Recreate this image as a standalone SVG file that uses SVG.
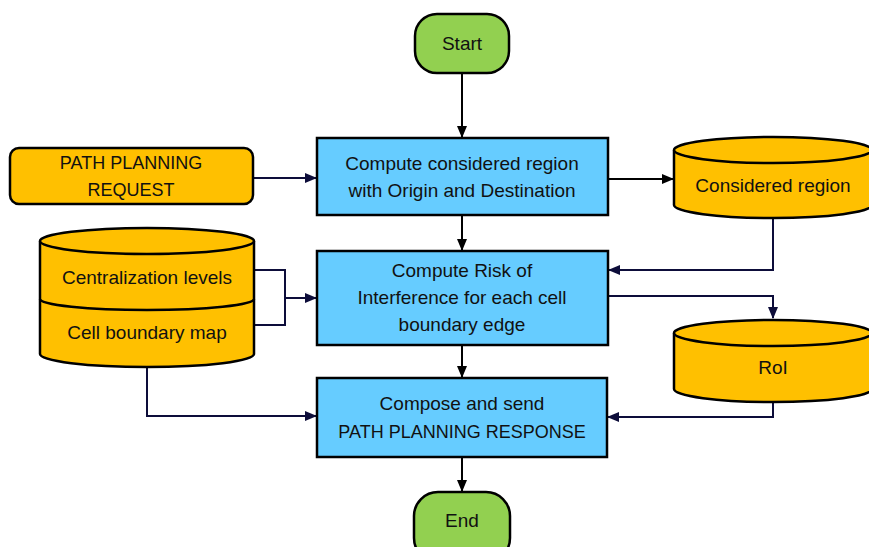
<svg xmlns="http://www.w3.org/2000/svg" width="869" height="547" viewBox="0 0 869 547">
<defs>
<style>
.t{font-family:"Liberation Sans",Arial,sans-serif;font-size:19px;fill:#111;text-anchor:middle}
.u{font-size:18px}
.term{fill:#92D050;stroke:#000;stroke-width:2.5}
.proc{fill:#66CCFF;stroke:#000;stroke-width:2.5}
.data{fill:#FFC000;stroke:#000;stroke-width:2.5}
.c{fill:none;stroke:#000;stroke-width:2}
.n{fill:none;stroke:#0D0D3A;stroke-width:2}
</style>
<marker id="ab" viewBox="0 0 12 10" refX="11" refY="5" markerWidth="12" markerHeight="10" orient="auto" markerUnits="userSpaceOnUse"><path d="M0,0L12,5L0,10z" fill="#000"/></marker>
<marker id="an" viewBox="0 0 12 10" refX="11" refY="5" markerWidth="12" markerHeight="10" orient="auto" markerUnits="userSpaceOnUse"><path d="M0,0L12,5L0,10z" fill="#0D0D3A"/></marker>
</defs>
<rect width="869" height="547" fill="#fff"/>
<g id="connectors">
<path class="c" d="M462,73V137" marker-end="url(#ab)"/>
<path class="n" d="M253,178H316" marker-end="url(#an)"/>
<path class="c" d="M608,179H673" marker-end="url(#ab)"/>
<path class="c" d="M462,215V250" marker-end="url(#ab)"/>
<path class="n" d="M773,218V270H609" marker-end="url(#an)"/>
<path class="n" d="M253,270H285V325H253M285,298H316" marker-end="url(#an)"/>
<path class="n" d="M608,296H773V318" marker-end="url(#an)"/>
<path class="c" d="M462,345V377" marker-end="url(#ab)"/>
<path class="n" d="M147,367V416H316" marker-end="url(#an)"/>
<path class="n" d="M773,402V417H608" marker-end="url(#an)"/>
<path class="c" d="M462,457V491" marker-end="url(#ab)"/>
</g>
<g id="start">
<rect class="term" x="415" y="14" width="94" height="59" rx="22"/>
<text class="t" x="462" y="50">Start</text>
</g>
<g id="request">
<rect class="data" x="10" y="148" width="243" height="56" rx="9"/>
<text class="t u" x="131" y="169">PATH PLANNING</text>
<text class="t u" x="131" y="196">REQUEST</text>
</g>
<g id="compute-region">
<rect class="proc" x="317" y="138" width="291" height="77"/>
<text class="t" x="462" y="170">Compute considered region</text>
<text class="t" x="462" y="197">with Origin and Destination</text>
</g>
<g id="considered-region">
<path class="data" d="M674,150V205A99,13 0 0 0 872,205V150"/>
<ellipse class="data" cx="773" cy="150" rx="99" ry="13"/>
<text class="t" x="773" y="192">Considered region</text>
</g>
<g id="centralization-db">
<path class="data" d="M40,241V354A107,13 0 0 0 254,354V241"/>
<ellipse class="data" cx="147" cy="241" rx="107" ry="13"/>
<path class="data" d="M40,299A107,11 0 0 0 254,299" style="fill:none"/>
<text class="t" x="147" y="284">Centralization levels</text>
<text class="t" x="147" y="339">Cell boundary map</text>
</g>
<g id="compute-risk">
<rect class="proc" x="317" y="251" width="291" height="94"/>
<text class="t" x="462" y="277">Compute Risk of</text>
<text class="t" x="462" y="304">Interference for each cell</text>
<text class="t" x="462" y="331">boundary edge</text>
</g>
<g id="roi">
<path class="data" d="M674,333V389A99,13 0 0 0 872,389V333"/>
<ellipse class="data" cx="773" cy="333" rx="99" ry="13"/>
<text class="t" x="773" y="374">RoI</text>
</g>
<g id="compose">
<rect class="proc" x="317" y="378" width="290" height="79"/>
<text class="t" x="462" y="410">Compose and send</text>
<text class="t u" x="462" y="438">PATH PLANNING RESPONSE</text>
</g>
<g id="end">
<rect class="term" x="414" y="492" width="96" height="70" rx="24"/>
<text class="t" x="462" y="527">End</text>
</g>
</svg>
